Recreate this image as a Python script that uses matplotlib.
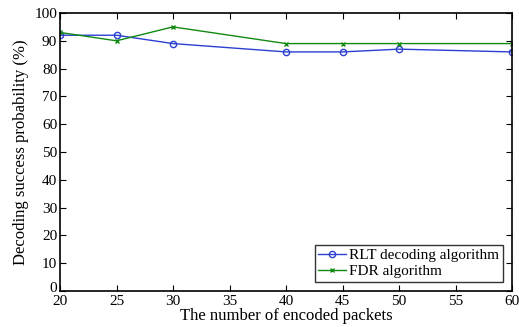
import matplotlib
matplotlib.use("Agg")
import matplotlib.pyplot as plt
import matplotlib.transforms as mtransforms

x = [20, 25, 30, 40, 45, 50, 60]
rlt = [92, 92, 89, 86, 86, 87, 86]
fdr = [93, 90, 95, 89, 89, 89, 89]
xticks = [20, 25, 30, 35, 40, 45, 50, 55, 60]
yticks = list(range(0, 101, 10))

plt.rcParams['font.family'] = ['Liberation Serif', 'DejaVu Serif']
fig = plt.figure(figsize=(5.19, 3.27), dpi=100)
ax = fig.add_axes([60/519, 1 - 291/327, (512-60)/519, (291-13)/327])
ax.plot(x, rlt, color='#2b3fd1', marker='o', markersize=4.5, markerfacecolor='none',
        markeredgewidth=1, linewidth=1, label='RLT decoding algorithm')
ax.plot(x, fdr, color='#118a11', marker='x', markersize=3.5, markeredgewidth=1,
        linewidth=1, label='FDR algorithm')
ax.set_xlim(20, 60)
ax.set_ylim(0, 100)
ax.set_xticks(xticks)
ax.set_yticks(yticks)
ax.tick_params(direction='in', top=True, right=True, labelsize=11, length=4)
ax.tick_params(axis='x', pad=3)
ax.tick_params(axis='y', pad=2)
ax.set_xlabel('The number of encoded packets', fontsize=12, labelpad=0)
ax.set_ylabel('Decoding success probability (%)', fontsize=12, labelpad=4)
for s in ax.spines.values():
    s.set_linewidth(1.2)
leg = ax.legend(loc='lower right', fontsize=11, frameon=True, fancybox=False,
                edgecolor='black', borderpad=0.25, labelspacing=0.15,
                handlelength=1.8, handletextpad=0.2, borderaxespad=0.6)
leg.get_frame().set_linewidth(1)

fig.canvas.draw()
lbl0 = ax.get_yticklabels()[0]
lbl0.set_transform(lbl0.get_transform() + mtransforms.ScaledTranslation(0, 3/72, fig.dpi_scale_trans))
fig.savefig('out.png', dpi=100)
